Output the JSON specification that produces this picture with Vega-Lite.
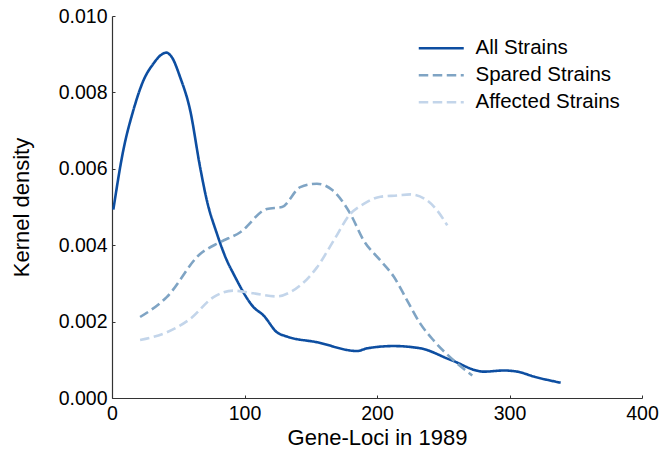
{
  "$schema": "https://vega.github.io/schema/vega-lite/v6.json",
  "width": 530,
  "height": 382,
  "autosize": {"type": "none"},
  "padding": {"left": 112, "top": 16, "right": 17, "bottom": 56},
  "background": "white",
  "config": {
    "view": {"stroke": null},
    "font": "Liberation Sans",
    "axis": {
      "grid": false,
      "domainColor": "#333333",
      "domainWidth": 1.2,
      "tickColor": "#333333",
      "tickSize": -3,
      "labelColor": "#000000",
      "titleColor": "#000000",
      "labelFont": "Liberation Sans",
      "titleFont": "Liberation Sans",
      "labelFontSize": 19.5,
      "titleFontSize": 22,
      "titleFontWeight": "normal"
    },
    "legend": {
      "labelFont": "Liberation Sans",
      "labelFontSize": 20.5,
      "labelColor": "#000000"
    }
  },
  "data": {
    "values": [
      {"series": "All Strains", "x": 1, "y": 0.00493},
      {"series": "All Strains", "x": 8.5, "y": 0.00648},
      {"series": "All Strains", "x": 16.1, "y": 0.00753},
      {"series": "All Strains", "x": 23.7, "y": 0.00831},
      {"series": "All Strains", "x": 31.2, "y": 0.00875},
      {"series": "All Strains", "x": 37, "y": 0.00898},
      {"series": "All Strains", "x": 41, "y": 0.00904},
      {"series": "All Strains", "x": 45, "y": 0.00893},
      {"series": "All Strains", "x": 51.4, "y": 0.0084},
      {"series": "All Strains", "x": 59, "y": 0.00753},
      {"series": "All Strains", "x": 66.5, "y": 0.00604},
      {"series": "All Strains", "x": 71.6, "y": 0.00517},
      {"series": "All Strains", "x": 79.1, "y": 0.00431},
      {"series": "All Strains", "x": 86.7, "y": 0.0036},
      {"series": "All Strains", "x": 91.7, "y": 0.00325},
      {"series": "All Strains", "x": 106.8, "y": 0.00238},
      {"series": "All Strains", "x": 114.4, "y": 0.00216},
      {"series": "All Strains", "x": 124.5, "y": 0.00172},
      {"series": "All Strains", "x": 132, "y": 0.00161},
      {"series": "All Strains", "x": 154.7, "y": 0.00146},
      {"series": "All Strains", "x": 185, "y": 0.00123},
      {"series": "All Strains", "x": 192.5, "y": 0.0013},
      {"series": "All Strains", "x": 212.6, "y": 0.00136},
      {"series": "All Strains", "x": 232.8, "y": 0.0013},
      {"series": "All Strains", "x": 255.5, "y": 0.001},
      {"series": "All Strains", "x": 280.7, "y": 0.00069},
      {"series": "All Strains", "x": 295.8, "y": 0.00072},
      {"series": "All Strains", "x": 305.9, "y": 0.00069},
      {"series": "All Strains", "x": 318.5, "y": 0.00056},
      {"series": "All Strains", "x": 338.6, "y": 0.0004},
      {"series": "Spared Strains", "x": 21.2, "y": 0.00212},
      {"series": "Spared Strains", "x": 41.3, "y": 0.00264},
      {"series": "Spared Strains", "x": 66.5, "y": 0.00377},
      {"series": "Spared Strains", "x": 81.6, "y": 0.00408},
      {"series": "Spared Strains", "x": 96.8, "y": 0.00434},
      {"series": "Spared Strains", "x": 116.9, "y": 0.00495},
      {"series": "Spared Strains", "x": 128.3, "y": 0.005},
      {"series": "Spared Strains", "x": 142.1, "y": 0.00552},
      {"series": "Spared Strains", "x": 154.7, "y": 0.00561},
      {"series": "Spared Strains", "x": 166, "y": 0.00545},
      {"series": "Spared Strains", "x": 179.9, "y": 0.00482},
      {"series": "Spared Strains", "x": 190, "y": 0.00412},
      {"series": "Spared Strains", "x": 202.6, "y": 0.0036},
      {"series": "Spared Strains", "x": 212.6, "y": 0.00318},
      {"series": "Spared Strains", "x": 222.8, "y": 0.00255},
      {"series": "Spared Strains", "x": 232.8, "y": 0.00194},
      {"series": "Spared Strains", "x": 242.9, "y": 0.0015},
      {"series": "Spared Strains", "x": 258, "y": 0.00098},
      {"series": "Spared Strains", "x": 271.9, "y": 0.00059},
      {"series": "Affected Strains", "x": 21.2, "y": 0.00152},
      {"series": "Affected Strains", "x": 41.3, "y": 0.00172},
      {"series": "Affected Strains", "x": 59, "y": 0.00207},
      {"series": "Affected Strains", "x": 76.6, "y": 0.00264},
      {"series": "Affected Strains", "x": 91.7, "y": 0.00281},
      {"series": "Affected Strains", "x": 106.8, "y": 0.00274},
      {"series": "Affected Strains", "x": 124.5, "y": 0.00266},
      {"series": "Affected Strains", "x": 134.5, "y": 0.00277},
      {"series": "Affected Strains", "x": 154.7, "y": 0.00342},
      {"series": "Affected Strains", "x": 167.3, "y": 0.00412},
      {"series": "Affected Strains", "x": 179.9, "y": 0.00482},
      {"series": "Affected Strains", "x": 190, "y": 0.00508},
      {"series": "Affected Strains", "x": 202.6, "y": 0.00527},
      {"series": "Affected Strains", "x": 215.2, "y": 0.0053},
      {"series": "Affected Strains", "x": 225.2, "y": 0.00533},
      {"series": "Affected Strains", "x": 237.9, "y": 0.00517},
      {"series": "Affected Strains", "x": 245.4, "y": 0.00491},
      {"series": "Affected Strains", "x": 253, "y": 0.00452}
    ]
  },
  "mark": {"type": "line", "interpolate": "monotone", "strokeWidth": 2.6},
  "encoding": {
    "x": {
      "field": "x",
      "type": "quantitative",
      "scale": {"domain": [0, 400], "nice": false},
      "axis": {"values": [0, 100, 200, 300, 400], "title": "Gene-Loci in 1989", "labelPadding": 9, "titlePadding": 5, "labelFlush": false}
    },
    "y": {
      "field": "y",
      "type": "quantitative",
      "scale": {"domain": [0, 0.01], "nice": false},
      "axis": {"values": [0, 0.002, 0.004, 0.006, 0.008, 0.01], "format": ".3f", "title": "Kernel density", "labelPadding": 8, "titlePadding": 25, "labelFlush": false}
    },
    "color": {
      "field": "series",
      "type": "nominal",
      "sort": ["All Strains", "Spared Strains", "Affected Strains"],
      "scale": {"domain": ["All Strains", "Spared Strains", "Affected Strains"], "range": ["#0d4ea1", "#7fa4c4", "#c3d5ea"]},
      "legend": {
        "title": null,
        "orient": "none",
        "legendX": 319,
        "legendY": 22,
        "symbolType": "M-3,0H3",
        "symbolSize": 225,
        "symbolStrokeWidth": 2.6,
        "labelOffset": 24,
        "rowPadding": 6,
        "padding": 0
      }
    },
    "strokeDash": {
      "field": "series",
      "type": "nominal",
      "sort": ["All Strains", "Spared Strains", "Affected Strains"],
      "scale": {"domain": ["All Strains", "Spared Strains", "Affected Strains"], "range": [[1, 0], [9.5, 4.5], [9.5, 4.5]]},
      "legend": {
        "title": null,
        "orient": "none",
        "legendX": 319,
        "legendY": 22,
        "symbolType": "M-3,0H3",
        "symbolSize": 225,
        "symbolStrokeWidth": 2.6,
        "labelOffset": 24,
        "rowPadding": 6,
        "padding": 0
      }
    }
  }
}
